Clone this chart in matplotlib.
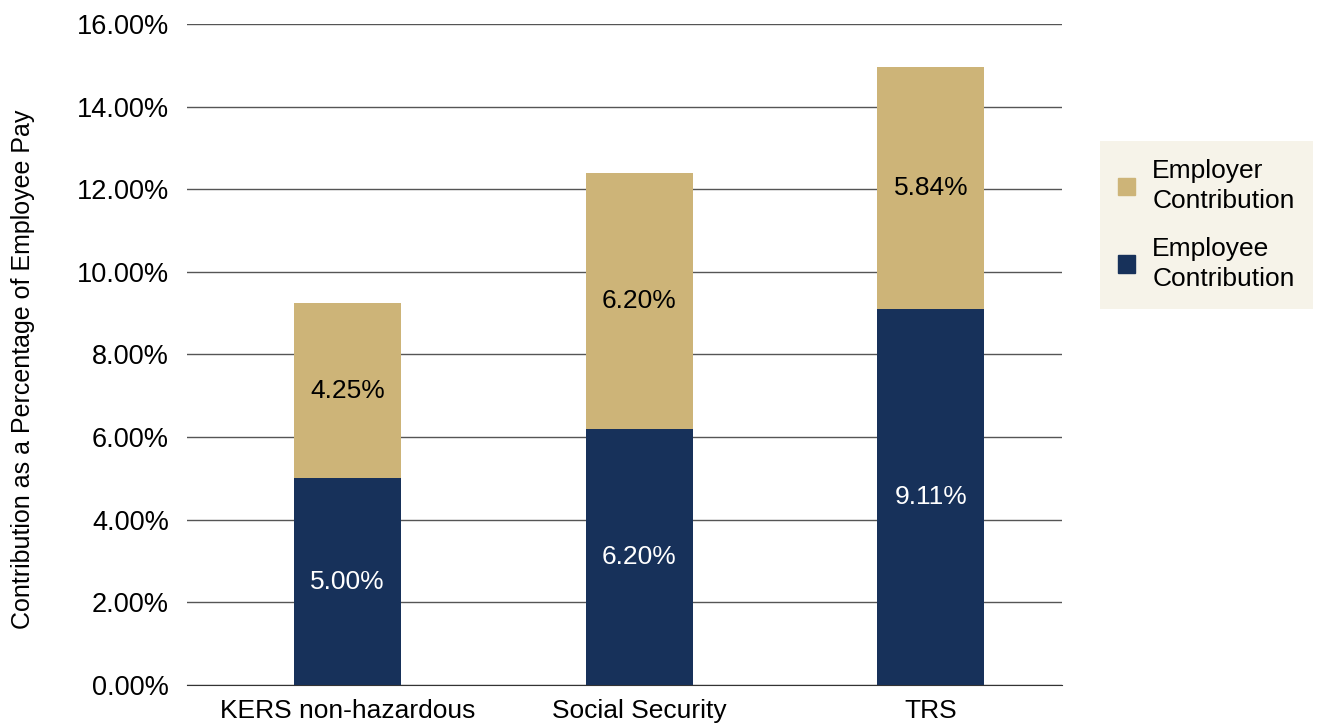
import numpy as np
import matplotlib.pyplot as plt
from matplotlib.patches import Patch

plt.rcParams['font.family'] = ['Liberation Sans', 'DejaVu Sans']

plans = ["KERS non-hazardous", "Social Security", "TRS"]
employee = [5.00, 6.20, 9.11]
employer = [4.25, 6.20, 5.84]

navy = "#17315A"
gold = "#CDB478"

fig = plt.figure(figsize=(13.36, 7.23), dpi=100)
ax = fig.add_axes([0.14, 0.0526, 0.655, 0.9142])

x = np.arange(len(plans))
b1 = ax.bar(x, employee, width=0.367, color=navy, zorder=3)
b2 = ax.bar(x, employer, width=0.367, bottom=employee, color=gold, zorder=3)

ax.bar_label(b1, labels=["%.2f%%" % v for v in employee], label_type="center",
             color="white", fontsize=19)
ax.bar_label(b2, labels=["%.2f%%" % v for v in employer], label_type="center",
             color="black", fontsize=19)

ax.set_xlim(-0.55, 2.45)
ax.set_ylim(0, 16)
ax.set_yticks(np.arange(0, 17, 2))
ax.set_yticklabels(["%.2f%%" % v for v in np.arange(0, 17, 2)])
ax.set_xticks(x)
ax.set_xticklabels(plans)
ax.tick_params(axis="y", length=0, labelsize=19.5, pad=13)
ax.tick_params(axis="x", length=0, labelsize=19, pad=10)
ax.grid(axis="y", color="#555555", linewidth=1, zorder=0)
for s in ["top", "right", "left"]:
    ax.spines[s].set_visible(False)
ax.spines["bottom"].set_color("#333333")
ax.set_ylabel("Contribution as a Percentage of Employee Pay", fontsize=18)
ax.yaxis.set_label_coords(-0.174, 0.477)

handles = [Patch(color=gold), Patch(color=navy)]
leg = fig.legend(handles, ["Employer\nContribution", "Employee\nContribution"],
                 loc="upper left", bbox_to_anchor=(0.823, 0.805), fontsize=19,
                 frameon=True, fancybox=False, handlelength=0.65, handleheight=0.65,
                 handletextpad=0.65, labelspacing=0.9, borderpad=0.7,
                 borderaxespad=0)
for t in leg.get_texts():
    t.set_linespacing(1.3)
leg.get_frame().set_facecolor("#F4F0E4")
leg.get_frame().set_edgecolor("none")

fig.savefig("out.png", dpi=100)
